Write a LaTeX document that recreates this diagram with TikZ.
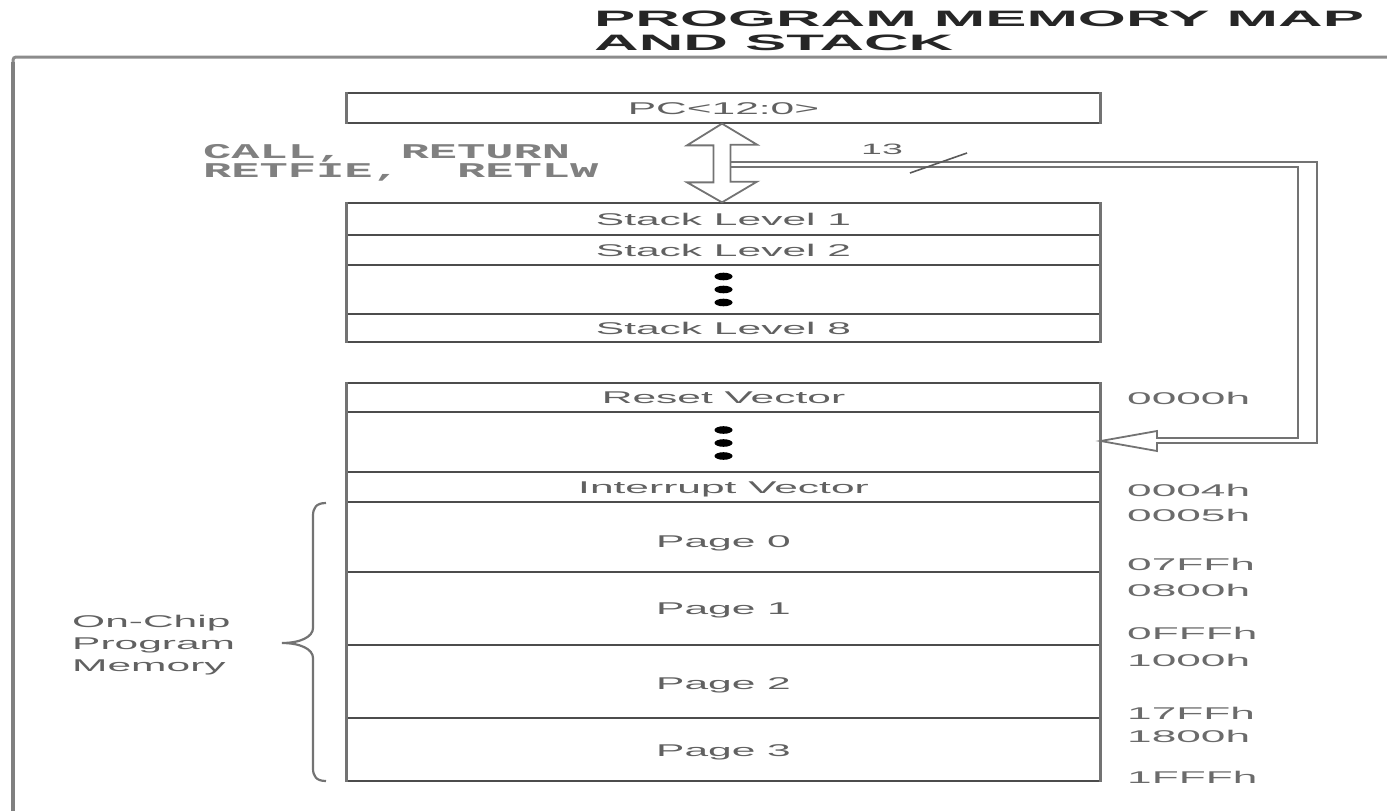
\documentclass[tikz,border=0pt]{standalone}
\usepackage{fontspec}
\setmainfont{Liberation Sans}
\newfontfamily\monof{Liberation Mono}
\usepackage{graphicx}
\usetikzlibrary{calc}
\newcommand{\stx}[1]{\scalebox{2.5}[1]{#1}}
\newcommand{\sta}[1]{\scalebox{2.6}[1]{#1}}
\begin{document}
\begin{tikzpicture}[x=1pt,y=-1pt,
  row/.style={draw=black!70,line width=1.3pt,minimum width=753pt,inner sep=0pt,
    text=black!62,font=\fontsize{17}{20}\selectfont,text height=12pt,text depth=0pt},
  side/.style={draw=black!55,line width=3pt},
  lbl/.style={inner sep=0pt,text=black!62,font=\fontsize{17}{20}\selectfont,text height=12pt,text depth=0pt},
  addr/.style={lbl,anchor=west,text=black!58},
  hollow/.style={draw=black!55,line width=1.8pt,line join=miter},
  dotmark/.style={fill=black,draw=none},
  frameline/.style={draw=black!45,line width=3pt},
  bracel/.style={draw=black!55,line width=2.2pt}]
\useasboundingbox (0,0) rectangle (1387,811);

% outer frame (top and left visible)
\draw[frameline,rounded corners=3pt] (1387,57) -- (13,57) -- (13,811);
\draw[draw=black!50,line width=4.5pt] (13,62) -- (13,811);

% title
\node[anchor=base west,inner sep=0pt,text=black!85,font=\bfseries\fontsize{22.3}{24}\selectfont] (t1) at (594,27) {\scalebox{2.77}[1]{PROGRAM MEMORY MAP}};
\node[anchor=base west,inner sep=0pt,text=black!85,font=\bfseries\fontsize{22.3}{24}\selectfont] (t2) at (594,50) {\scalebox{2.77}[1]{AND STACK}};

% PC box
\node[row,minimum height=30pt] (pc) at (723.5,108) {\stx{PC<12:0>}};
\draw[side] (pc.north west) -- (pc.south west);
\draw[side] (pc.north east) -- (pc.south east);

% stack
\node[row,minimum height=32pt] (s1) at (723.5,219) {\stx{Stack Level 1}};
\node[row,minimum height=30pt] (s2) at (723.5,250) {\stx{Stack Level 2}};
\node[row,minimum height=49pt] (sd) at (723.5,289.5) {};
\node[row,minimum height=28pt] (s8) at (723.5,328) {\stx{Stack Level 8}};
\draw[side] (s1.north west) -- (s8.south west);
\draw[side] (s1.north east) -- (s8.south east);
\foreach \dy in {-13,0,13} \fill[dotmark] ($(sd.center)+(0,\dy)$) ellipse [x radius=9pt, y radius=3.8pt];

% program memory
\node[row,minimum height=29pt] (rv) at (723.5,397.5) {\stx{Reset Vector}};
\node[row,minimum height=60pt] (md) at (723.5,442) {};
\node[row,minimum height=30pt] (iv) at (723.5,487) {\stx{Interrupt Vector}};
\node[row,minimum height=70pt] (p0) at (723.5,537) {};
\node[row,minimum height=73pt] (p1) at (723.5,608.5) {};
\node[row,minimum height=73pt] (p2) at (723.5,681.5) {};
\node[row,minimum height=63pt] (p3) at (723.5,749.5) {};
\node[lbl] (p0t) at (723.5,541) {\stx{Page 0}};
\node[lbl] (p1t) at (723.5,608) {\stx{Page 1}};
\node[lbl] (p2t) at (723.5,683) {\stx{Page 2}};
\node[lbl] (p3t) at (723.5,750) {\stx{Page 3}};
\draw[side] (rv.north west) -- (p3.south west);
\draw[side] (rv.north east) -- (p3.south east);
\foreach \dy in {-13,0,13} \fill[dotmark] ($(md.center)+(0,\dy+1)$) ellipse [x radius=9pt, y radius=3.8pt];

% addresses
\node[addr] (a0) at (1127,398) {\sta{0000h}};
\node[addr] (a1) at (1127,490) {\sta{0004h}};
\node[addr] (a2) at (1127,515) {\sta{0005h}};
\node[addr] (a3) at (1127,564) {\sta{07FFh}};
\node[addr] (a4) at (1127,590) {\sta{0800h}};
\node[addr] (a5) at (1127,633) {\sta{0FFFh}};
\node[addr] (a6) at (1127,660) {\sta{1000h}};
\node[addr] (a7) at (1127,713) {\sta{17FFh}};
\node[addr] (a8) at (1127,736) {\sta{1800h}};
\node[addr] (a9) at (1127,777) {\sta{1FFFh}};

% CALL / RETURN label
\node[anchor=base west,inner sep=0pt,text=black!50,font=\monof\bfseries\fontsize{21}{22}\selectfont] (c1) at (203,158) {\scalebox{2.24}[1]{CALL,~~RETURN}};
\node[anchor=base west,inner sep=0pt,text=black!50,font=\monof\bfseries\fontsize{21}{22}\selectfont] (c2) at (203,177) {\scalebox{2.24}[1]{RETFIE,~~RETLW}};

% double-headed hollow arrow between PC and stack
\coordinate (ax) at (722,0);
\coordinate (atop) at (ax |- pc.south);
\coordinate (abot) at (ax |- s1.north);
\draw[hollow] (atop) -- ++(35,21) -- ++(-26.5,0) -- ++(0,37) -- ++(26.5,0) -- (abot)
  -- ++(-35,-20) -- ++(26.5,0) -- ++(0,-37) -- ++(-26.5,0) -- cycle;

% 13-bit bus to program memory
\coordinate (b1) at (730.5,162);
\coordinate (b2) at (730.5,167);
\coordinate (ty) at (0,441);
\coordinate (tip) at (rv.east |- ty);
\draw[hollow] (b1) -- (1317,162) -- (1317,443) -- (1157,443) -- (1157,451) -- (tip)
  -- (1157,431) -- (1157,438) -- (1298,438) -- (1298,167) -- (b2);
\draw[draw=black!65,line width=1.6pt] (910,173) -- (967,153);
\node[lbl,text=black!62,font=\fontsize{15}{18}\selectfont] (n13) at (882,148) {\stx{13}};

% brace and label
\draw[bracel] (326,503) .. controls (316,503) and (313,508) .. (313,516) -- (313,628)
  .. controls (313,637) and (300,643) .. (282,643)
  .. controls (300,643) and (313,649) .. (313,658) -- (313,768)
  .. controls (313,776) and (316,781) .. (326,781);
\node[anchor=west,inner sep=0pt,align=left,text=black!62,font=\fontsize{17}{22}\selectfont] (oc) at (72,645)
  {\stx{On-Chip}\\\stx{Program}\\\stx{Memory}};
\end{tikzpicture}
\end{document}
